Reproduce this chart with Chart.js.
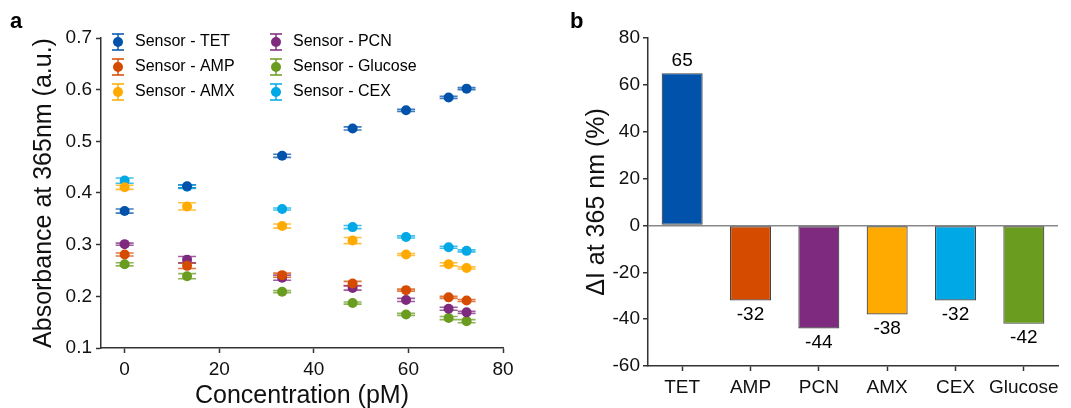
<!DOCTYPE html>
<html>
<head>
<meta charset="utf-8">
<script src="https://cdn.jsdelivr.net/npm/chart.js@4"></script>
<style>
  body { margin: 0; background: #fff; font-family: "Liberation Sans", Arial, sans-serif; }
  #wrap { position: relative; width: 1071px; height: 408px; overflow: hidden; }
  .panel { position: absolute; top: 0; height: 408px; }
  .tag { position: absolute; font-weight: bold; font-size: 22px; color: #000; }
</style>
</head>
<body>
<div id="wrap">
  <div class="panel" style="left:0;width:540px"><canvas id="absChart" width="540" height="408"></canvas></div>
  <div class="panel" style="left:540px;width:531px"><canvas id="deltaChart" width="531" height="408"></canvas></div>
  <div class="tag" style="left:10px;top:8px">a</div>
  <div class="tag" style="left:570px;top:8px">b</div>
</div>
<script>
// Data - panel a
const concentrations = [0, 13.2, 33.3, 48.2, 59.5, 68.5, 72.3];
const tetAbs = [0.365, 0.413, 0.472, 0.525, 0.560, 0.585, 0.602];
const ampAbs = [0.281, 0.259, 0.241, 0.225, 0.212, 0.198, 0.192];
const amxAbs = [0.411, 0.374, 0.336, 0.308, 0.281, 0.262, 0.255];
const pcnAbs = [0.301, 0.271, 0.236, 0.216, 0.193, 0.176, 0.169];
const glucoseAbs = [0.262, 0.239, 0.209, 0.187, 0.165, 0.158, 0.152];
const cexAbs = [0.424, 0.412, 0.369, 0.334, 0.315, 0.295, 0.288];
const tetErr = [0.004, 0.003, 0.003, 0.003, 0.002, 0.002, 0.002];
const ampErr = [0.003, 0.005, 0.004, 0.004, 0.002, 0.002, 0.002];
const amxErr = [0.004, 0.007, 0.004, 0.006, 0.002, 0.003, 0.002];
const pcnErr = [0.002, 0.006, 0.005, 0.004, 0.003, 0.003, 0.002];
const glucoseErr = [0.003, 0.005, 0.002, 0.002, 0.002, 0.003, 0.003];
const cexErr = [0.005, 0.003, 0.002, 0.003, 0.002, 0.002, 0.002];
const absXTicks = [0, 20, 40, 60, 80];
const absYTicks = [0.1, 0.2, 0.3, 0.4, 0.5, 0.6, 0.7];

// Data - panel b
const analytes = ['TET', 'AMP', 'PCN', 'AMX', 'CEX', 'Glucose'];
const deltaI = [65, -32, -44, -38, -32, -42];
const deltaYTicks = [-60, -40, -20, 0, 20, 40, 60, 80];

const colors = {
    TET: '#0052aa',
    AMP: '#d54b00',
    PCN: '#7e2a7e',
    AMX: '#ffaa00',
    CEX: '#00a8e6',
    Glucose: '#6a9c20'
};

const axisColor = '#333';
const tickFont = { family: 'Liberation Sans', size: 19 };
const titleFont = { family: 'Liberation Sans', size: 25, lineHeight: 1 };

function series(label, values, errs) {
    return {
        label: 'Sensor - ' + label,
        data: values.map((v, i) => ({ x: concentrations[i], y: v })),
        errs: errs,
        backgroundColor: colors[label],
        pointRadius: 5,
        pointHoverRadius: 5,
        pointBorderWidth: 0
    };
}

// error bars (caps above and below each dot)
const errorBars = {
    id: 'errorBars',
    beforeDatasetsDraw(chart) {
        const c = chart.ctx;
        const ys = chart.scales.y;
        chart.data.datasets.forEach((ds, di) => {
            const meta = chart.getDatasetMeta(di);
            c.save();
            c.strokeStyle = ds.backgroundColor;
            c.globalAlpha = 0.75;
            c.lineWidth = 1.6;
            meta.data.forEach((pt, i) => {
                const v = ds.data[i].y, e = ds.errs[i];
                const y1 = ys.getPixelForValue(v + e), y2 = ys.getPixelForValue(v - e);
                c.beginPath();
                c.moveTo(pt.x - 9, y1); c.lineTo(pt.x + 9, y1);
                c.moveTo(pt.x - 9, y2); c.lineTo(pt.x + 9, y2);
                c.moveTo(pt.x, y1); c.lineTo(pt.x, y2);
                c.stroke();
            });
            c.restore();
        });
    }
};

// legend drawn inside plot area, two columns
const insideLegend = {
    id: 'insideLegend',
    afterDraw(chart) {
        const c = chart.ctx;
        const order = [0, 1, 2, 3, 4, 5];
        c.save();
        c.font = '16px "Liberation Sans"';
        c.textBaseline = 'middle';
        order.forEach((di, k) => {
            const ds = chart.data.datasets[di];
            const col = Math.floor(k / 3), row = k % 3;
            const x = 118 + col * 158, y = 42 + row * 25;
            c.strokeStyle = ds.backgroundColor;
            c.fillStyle = ds.backgroundColor;
            c.lineWidth = 1.4;
            c.beginPath();
            c.moveTo(x - 6, y - 8); c.lineTo(x + 6, y - 8);
            c.moveTo(x - 6, y + 8); c.lineTo(x + 6, y + 8);
            c.moveTo(x, y - 8); c.lineTo(x, y + 8);
            c.stroke();
            c.beginPath();
            c.arc(x, y, 5, 0, Math.PI * 2);
            c.fill();
            c.fillStyle = '#000';
            c.fillText(ds.label, x + 17, y);
        });
        c.restore();
    }
};

new Chart(document.getElementById('absChart'), {
    type: 'scatter',
    data: {
        datasets: [
            series('TET', tetAbs, tetErr),
            series('AMP', ampAbs, ampErr),
            series('AMX', amxAbs, amxErr),
            series('PCN', pcnAbs, pcnErr),
            series('Glucose', glucoseAbs, glucoseErr),
            series('CEX', cexAbs, cexErr)
        ]
    },
    options: {
        responsive: false,
        animation: false,
        layout: { padding: { left: 0, top: 38, right: 37, bottom: 0 } },
        plugins: { legend: { display: false }, tooltip: { enabled: false } },
        scales: {
            x: {
                type: 'linear',
                min: -5,
                max: 80,
                afterBuildTicks: s => { s.ticks = absXTicks.map(v => ({ value: v })); },
                afterFit: s => { s.height = 60; },
                border: { color: axisColor, width: 1.5 },
                grid: { drawOnChartArea: false, tickLength: 5, tickColor: axisColor, tickWidth: 1.5 },
                ticks: { font: tickFont, color: '#111', padding: 5 },
                title: { display: true, text: 'Concentration (pM)', font: titleFont, color: '#111', padding: { top: 0, bottom: -1 } }
            },
            y: {
                min: 0.1,
                max: 0.7,
                afterBuildTicks: s => { s.ticks = absYTicks.map(v => ({ value: v })); },
                afterFit: s => { s.width = 101; },
                border: { color: axisColor, width: 1.5 },
                grid: { drawOnChartArea: false, tickLength: 5, tickColor: axisColor, tickWidth: 1.5 },
                ticks: { font: tickFont, color: '#111', padding: 4, callback: v => v.toFixed(1) },
                title: { display: true, text: 'Absorbance at 365nm (a.u.)', font: titleFont, color: '#111', padding: { top: 32, bottom: 0 } }
            }
        }
    },
    plugins: [errorBars, insideLegend]
});

// value labels over/under bars
const barLabels = {
    id: 'barLabels',
    afterDatasetsDraw(chart) {
        const c = chart.ctx;
        const meta = chart.getDatasetMeta(0);
        c.save();
        c.font = '19px "Liberation Sans"';
        c.fillStyle = '#000';
        c.textAlign = 'center';
        c.textBaseline = 'middle';
        meta.data.forEach((bar, i) => {
            const v = chart.data.datasets[0].data[i];
            const y = v >= 0 ? bar.y - 12 : bar.y + 14;
            c.fillText(String(v), bar.x, y);
        });
        c.restore();
    }
};

new Chart(document.getElementById('deltaChart'), {
    type: 'bar',
    data: {
        labels: analytes,
        datasets: [{
            data: deltaI,
            backgroundColor: analytes.map(a => colors[a]),
            borderColor: '#444',
            borderWidth: 1.2,
            borderSkipped: false,
            barPercentage: 0.6,
            categoryPercentage: 1.0
        }]
    },
    options: {
        responsive: false,
        animation: false,
        layout: { padding: { left: 0, top: 38, right: 13, bottom: 0 } },
        plugins: { legend: { display: false }, tooltip: { enabled: false } },
        scales: {
            x: {
                afterFit: s => { s.height = 42; },
                border: { color: axisColor, width: 1.5 },
                grid: { offset: false, drawOnChartArea: false, tickLength: 5, tickColor: axisColor, tickWidth: 1.5 },
                ticks: { font: tickFont, color: '#111', padding: 5, maxRotation: 0, minRotation: 0, autoSkip: false }
            },
            y: {
                min: -60,
                max: 80,
                afterBuildTicks: s => { s.ticks = deltaYTicks.map(v => ({ value: v })); },
                afterFit: s => { s.width = 108; },
                border: { color: axisColor, width: 1.5 },
                grid: {
                    drawOnChartArea: true,
                    color: ctx => (ctx.tick && ctx.tick.value === 0 ? '#888' : 'rgba(0,0,0,0)'),
                    lineWidth: 1.5,
                    tickLength: 5,
                    tickColor: axisColor,
                    tickWidth: 1.5
                },
                ticks: { font: tickFont, color: '#111', padding: 3 },
                title: { display: true, text: '\u0394I at 365 nm (%)', font: titleFont, color: '#111', padding: { top: 45, bottom: 0 } }
            }
        }
    },
    plugins: [barLabels]
});
</script>
</body>
</html>
